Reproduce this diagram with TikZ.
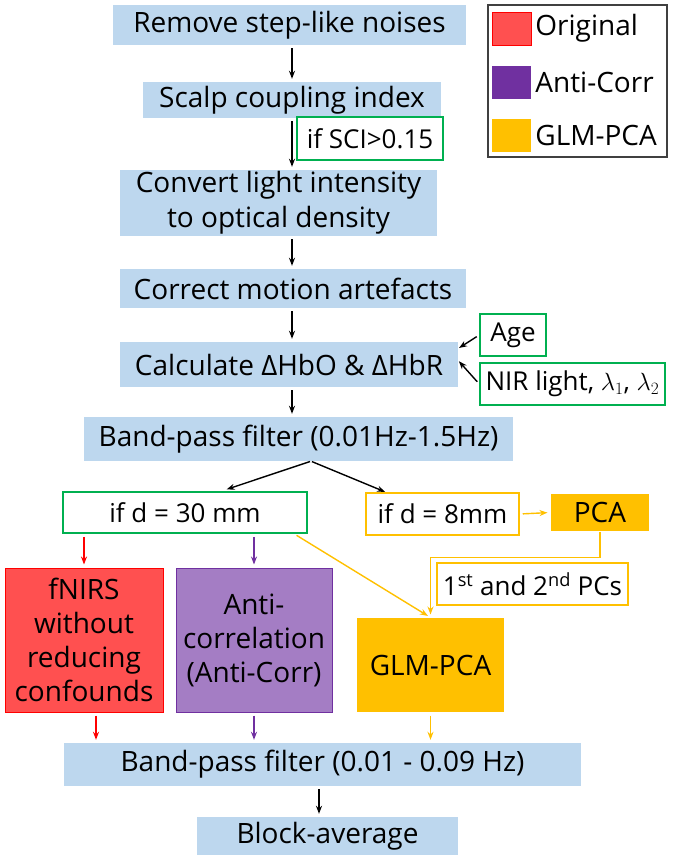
\documentclass[tikz,border=0pt]{standalone}
\usepackage{fontspec}
\setmainfont{Open Sans}
\usetikzlibrary{arrows.meta}

\definecolor{stepblue}{HTML}{BDD7EE}
\definecolor{okgreen}{HTML}{00B050}
\definecolor{origred}{HTML}{FF5050}
\definecolor{corrpurple}{HTML}{7030A0}
\definecolor{corrlight}{HTML}{A47DC4}
\definecolor{pcagold}{HTML}{FFC000}
\definecolor{framegray}{HTML}{404040}

\begin{document}
\begin{tikzpicture}[
  x = 1pt, y = -1pt,
  font = \fontsize{28}{35}\selectfont,
  stage/.style = {
    shape = rectangle,
    fill = stepblue,
    inner sep = 0pt,
    align = center,
  },
  cond/.style = {
    shape = rectangle,
    draw = okgreen,
    fill = white,
    line width = 1.5pt,
    inner sep = 0pt,
    font = \fontsize{26}{32}\selectfont,
  },
  pcacond/.style = {
    cond,
    draw = pcagold,
  },
  method/.style = {
    shape = rectangle,
    inner sep = 0pt,
    align = center,
    line width = 1pt,
    font = \fontsize{28}{34}\selectfont,
  },
  swatch/.style = {
    shape = rectangle,
    minimum width = 39pt,
    minimum height = 33pt,
    inner sep = 0pt,
  },
  flow/.style = {
    -{Stealth[length = 8pt, width = 6pt]},
    line width = 1.4pt,
    shorten < = 3pt,
    shorten > = 3pt,
  },
]
  \useasboundingbox (0, 0) rectangle (672, 861);

  % main pipeline
  \draw node[stage, minimum width = 353pt, minimum height = 40pt] (noise) at (289.5, 25) {Remove step-like noises};
  \draw node[stage, minimum width = 298pt, minimum height = 36pt] (scalp) at (292, 100) {Scalp coupling index};
  \draw node[cond, minimum width = 146pt, minimum height = 43pt] (sci) at (370, 138.5) {if SCI>0.15};
  \draw node[stage, minimum width = 317pt, minimum height = 66pt] (convert) at (278.5, 203) {Convert light intensity\\to optical density};
  \draw node[stage, minimum width = 346pt, minimum height = 39pt] (motion) at (293, 288.5) {Correct motion artefacts};
  \draw node[stage, minimum width = 338pt, minimum height = 45pt] (calc) at (289, 364.5) {Calculate ΔHbO \& ΔHbR};
  \draw node[cond, minimum width = 66pt, minimum height = 42pt] (age) at (513, 335) {Age};
  \draw node[cond, minimum width = 185pt, minimum height = 42pt] (nir) at (572.5, 384) {NIR light, \(\lambda_1\), \(\lambda_2\)};
  \draw node[stage, minimum width = 429pt, minimum height = 44pt] (bpwide) at (298.5, 439) {Band-pass filter (0.01Hz-1.5Hz)};

  % branches
  \draw node[cond, minimum width = 244pt, minimum height = 41pt] (long) at (185, 512.5) {if d = 30 mm};
  \draw node[pcacond, minimum width = 153pt, minimum height = 42pt] (short) at (442.5, 514) {if d = 8mm};
  \draw node[method, fill = pcagold, minimum width = 98pt, minimum height = 37pt] (pca) at (600, 512.5) {PCA};
  \draw node[pcacond, minimum width = 191pt, minimum height = 42pt] (pcs) at (532.5, 584) {1\textsuperscript{st} and 2\textsuperscript{nd} PCs};

  \draw node[method, fill = origred, draw = red, minimum width = 158pt, minimum height = 144pt] (orig) at (84, 640) {fNIRS\\without\\reducing\\confounds};
  \draw node[method, fill = corrlight, draw = corrpurple, minimum width = 156pt, minimum height = 144pt] (anti) at (254, 640) {Anti-\\correlation\\(Anti-Corr)};
  \draw node[method, fill = pcagold, minimum width = 147pt, minimum height = 94pt] (glm) at (430.5, 665) {GLM-PCA};

  \draw node[stage, minimum width = 517pt, minimum height = 43pt] (bpnarrow) at (322.5, 764.5) {Band-pass filter (0.01 - 0.09 Hz)};
  \draw node[stage, minimum width = 261pt, minimum height = 38pt] (block) at (327.5, 836) {Block-average};

  % legend
  \draw node[draw = framegray, line width = 1.2pt, minimum width = 179pt, minimum height = 152pt, inner sep = 0pt] (legend) at (577.5, 81) {};
  \draw node[swatch, fill = origred, draw = red] (keyorig) at (511.5, 28.5) {};
  \draw node[swatch, fill = corrpurple] (keyanti) at (511.5, 82.5) {};
  \draw node[swatch, fill = pcagold] (keyglm) at (511.5, 135.5) {};
  \draw node[anchor = west, inner sep = 4pt] (keyorigtext) at (keyorig.east) {Original};
  \draw node[anchor = west, inner sep = 4pt] (keyantitext) at (keyanti.east) {Anti-Corr};
  \draw node[anchor = west, inner sep = 4pt] (keyglmtext) at (keyglm.east) {GLM-PCA};

  % arrows
  \coordinate (spine) at (292, 0);
  \draw[flow] (noise.south -| spine) -- (scalp.north -| spine);
  \draw[flow] (scalp.south -| spine) -- (convert.north -| spine);
  \draw[flow] (convert.south -| spine) -- (motion.north -| spine);
  \draw[flow] (motion.south -| spine) -- (calc.north -| spine);
  \draw[flow] (calc.south -| spine) -- (bpwide.north -| spine);
  \draw[flow, shorten > = 1pt] (age.west) -- ([yshift = 16pt]calc.east);
  \draw[flow, shorten > = 1pt] (nir.west) -- ([yshift = 4pt]calc.east);

  \draw[flow, shorten < = 1pt, shorten > = 6pt] ([xshift = 12.5pt]bpwide.south) -- ([xshift = 36pt]long.north);
  \draw[flow, shorten < = 1pt, shorten > = 1pt] ([xshift = 12.5pt]bpwide.south) -- ([xshift = -56.5pt]short.north);

  \draw[flow, color = red] (orig.north |- long.south) -- (orig.north);
  \draw[flow, color = corrpurple] (anti.north |- long.south) -- (anti.north);
  \draw[flow, color = pcagold] ([xshift = 109pt]long.south) -- (glm.north);
  \draw[flow, color = pcagold] (short.east) -- (pca.west);
  \draw[flow, color = pcagold, shorten < = 0pt] (pca.south) -- ++(0, 26) -| (glm.north);

  \draw[flow, color = red] ([xshift = 12pt]orig.south) -- ([xshift = 12pt]orig.south |- bpnarrow.north);
  \draw[flow, color = corrpurple] (anti.south) -- (anti.south |- bpnarrow.north);
  \draw[flow, color = pcagold] (glm.south) -- (glm.south |- bpnarrow.north);
  \draw[flow] ([xshift = -8.5pt]block.north |- bpnarrow.south) -- ([xshift = -8.5pt]block.north);
\end{tikzpicture}
\end{document}
